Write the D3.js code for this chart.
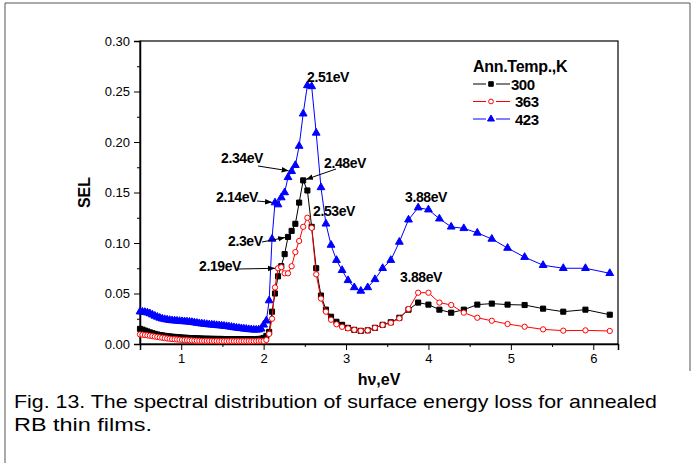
<!DOCTYPE html>
<html>
<head>
<meta charset="utf-8">
<script src="https://cdn.jsdelivr.net/npm/d3@7"></script>
<style>
body { margin: 0; background: #fff; }
text { font-family: Arial, "Liberation Sans", sans-serif; }
</style>
</head>
<body>
<div id="chart"></div>
<script>
// photon energy below 2 eV (dense part of the scan)
var lowE = [0.50,0.53,0.56,0.59,0.62,0.65,0.68,0.71,0.74,0.77,0.80,0.83,0.86,0.89,0.92,0.95,0.98,1.01,1.04,1.07,
    1.10,1.13,1.16,1.19,1.22,1.25,1.28,1.31,1.34,1.37,1.40,1.43,1.46,1.49,1.52,1.55,1.58,1.61,1.64,1.67,
    1.70,1.73,1.76,1.79,1.82,1.85,1.88,1.91,1.94,1.97];
var low300 = [.0150,.0142,.0133,.0124,.0115,.0107,.0100,.0094,.0089,.0085,.0081,.0078,.0075,.0072,.0070,.0068,.0066,.0064,.0062,.0061,
    .0059,.0058,.0057,.0056,.0055,.0054,.0053,.0052,.0052,.0051,.0051,.0050,.0050,.0050,.0049,.0049,.0049,.0048,.0048,.0048,
    .0048,.0048,.0048,.0048,.0048,.0048,.0049,.0049,.0050,.0052];
var low363 = [.0095,.0092,.0089,.0086,.0082,.0078,.0074,.0070,.0066,.0062,.0058,.0055,.0052,.0049,.0047,.0045,.0043,.0041,.0039,.0038,
    .0036,.0035,.0034,.0033,.0032,.0031,.0031,.0030,.0030,.0029,.0029,.0029,.0028,.0028,.0028,.0028,.0028,.0028,.0028,.0028,
    .0028,.0028,.0028,.0028,.0028,.0028,.0028,.0029,.0030,.0031];
var low423 = [.0320,.0318,.0315,.0310,.0302,.0290,.0278,.0268,.0258,.0250,.0244,.0240,.0236,.0233,.0231,.0229,.0226,.0224,.0223,.0221,
    .0219,.0216,.0212,.0208,.0204,.0201,.0198,.0195,.0192,.0190,.0188,.0185,.0183,.0181,.0178,.0175,.0172,.0168,.0164,.0160,
    .0157,.0154,.0151,.0148,.0145,.0143,.0141,.0140,.0142,.0150];

// photon energy from 2 eV up (10 nm steps)
var highE = [2.000,2.033,2.067,2.102,2.138,2.175,2.214,2.255,2.296,2.340,2.385,2.431,2.480,2.531,2.583,2.638,2.696,2.756,2.818,2.884,
    2.952,3.024,3.100,3.179,3.263,3.351,3.444,3.543,3.647,3.758,3.875,4.000,4.133,4.276,4.429,4.593,4.769,4.960,5.167,5.391,
    5.636,5.905,6.200];
var high300 = [.006,.008,.012,.032,.050,.067,.077,.089,.106,.112,.119,.140,.162,.152,.116,.075,.048,.034,.027,.022,
    .019,.016,.014,.013,.0135,.016,.019,.0215,.026,.034,.041,.039,.034,.031,.034,.039,.040,.039,.0386,.035,
    .032,.034,.029];
var high363 = [.003,.004,.010,.025,.056,.075,.076,.070,.070,.077,.091,.102,.116,.125,.115,.069,.045,.032,.024,.0195,
    .017,.0155,.014,.013,.0135,.016,.0188,.021,.0254,.0346,.0508,.0508,.041,.0386,.031,.026,.023,.0198,.0171,.0145,
    .0132,.0135,.0129];
var high423 = [.019,.023,.043,.104,.140,.138,.145,.150,.165,.171,.177,.196,.228,.256,.255,.209,.155,.119,.098,.083,
    .073,.063,.056,.0525,.056,.064,.075,.083,.101,.123,.135,.133,.124,.116,.1145,.110,.104,.095,.086,.078,
    .075,.075,.070];

var yTicks = [0, 0.05, 0.10, 0.15, 0.20, 0.25, 0.30];
var yMinor = [0.025, 0.075, 0.125, 0.175, 0.225, 0.275];
var xTicks = [1, 2, 3, 4, 5, 6];
var xMinor = [0.5, 1.5, 2.5, 3.5, 4.5, 5.5];
var temps = ["300", "363", "423"];
var legendTitle = "Ann.Temp.,K";
var caption = ["Fig. 13. The spectral distribution of surface energy loss for annealed", "RB thin films."];

var width = 694, height = 463;
var margin = { top: 41, right: 76, bottom: 119, left: 140 };

var svg = d3.select("#chart").append("svg")
    .attr("width", width)
    .attr("height", height);

// outer figure box
svg.append("path")
    .attr("d", "M5,463V3H690V371")
    .attr("fill", "none")
    .attr("stroke", "#555")
    .attr("stroke-width", 1);

var x = d3.scaleLinear().domain([0.5, 6.3]).range([margin.left, width - margin.right]);
var y = d3.scaleLinear().domain([0, 0.30]).range([height - margin.bottom, margin.top]);

var defs = svg.append("defs");
defs.append("marker")
    .attr("id", "arrow")
    .attr("viewBox", "0 0 10 10")
    .attr("refX", 10).attr("refY", 5)
    .attr("markerWidth", 7).attr("markerHeight", 7)
    .attr("markerUnits", "userSpaceOnUse")
    .attr("orient", "auto")
    .append("path")
    .attr("d", "M0,1L10,5L0,9z")
    .attr("fill", "#000");

// frame
svg.append("rect")
    .attr("x", x(0.5)).attr("y", y(0.30))
    .attr("width", x(6.3) - x(0.5)).attr("height", y(0) - y(0.30))
    .attr("fill", "none")
    .attr("stroke", "#000")
    .attr("stroke-width", 1.2);

var yAxis = svg.append("g")
    .attr("transform", `translate(${x(0.5)},0)`)
    .call(d3.axisLeft(y).tickValues(yTicks).tickFormat(d3.format(".2f")).tickSize(6).tickPadding(4))
    .call(g => g.select(".domain").attr("stroke-width", 1.5));
yAxis.selectAll("text").style("font-size", "13px").attr("fill", "#000");

svg.append("g")
    .attr("transform", `translate(${x(0.5)},0)`)
    .call(d3.axisLeft(y).tickValues(yMinor).tickFormat("").tickSize(3))
    .call(g => g.select(".domain").remove());

var xAxis = svg.append("g")
    .attr("transform", `translate(0,${y(0)})`)
    .call(d3.axisBottom(x).tickValues(xTicks).tickFormat(d3.format("d")).tickSize(6).tickPadding(4))
    .call(g => g.select(".domain").attr("stroke-width", 1.5));
xAxis.selectAll("text").style("font-size", "13px").attr("fill", "#000");

svg.append("g")
    .attr("transform", `translate(0,${y(0)})`)
    .call(d3.axisBottom(x).tickValues(xMinor).tickFormat("").tickSize(3))
    .call(g => g.select(".domain").remove());

svg.append("text")
    .attr("transform", `translate(90,${(y(0) + y(0.30)) / 2}) rotate(-90)`)
    .attr("text-anchor", "middle")
    .style("font-size", "16px")
    .style("font-weight", "bold")
    .text("SEL");

svg.append("text")
    .attr("x", (x(0.5) + x(6.3)) / 2)
    .attr("y", 385)
    .attr("text-anchor", "middle")
    .style("font-size", "16px")
    .style("font-weight", "bold")
    .text("hν,eV");

// series
var series = [
    { name: temps[0], color: "#000", shape: d3.symbolSquare, size: 26, fill: "#000",
      points: lowE.map((e, i) => [e, low300[i]]).concat(highE.map((e, i) => [e, high300[i]])) },
    { name: temps[1], color: "#ff0000", shape: d3.symbolCircle, size: 22, fill: "#fff",
      points: lowE.map((e, i) => [e, low363[i]]).concat(highE.map((e, i) => [e, high363[i]])) },
    { name: temps[2], color: "#0000ff", shape: d3.symbolTriangle, size: 26, fill: "#0000ff",
      points: lowE.map((e, i) => [e, low423[i]]).concat(highE.map((e, i) => [e, high423[i]])) }
];

var line = d3.line().x(d => x(d[0])).y(d => y(d[1]));

series.forEach(function(s) {
    var g = svg.append("g");
    g.append("path")
        .attr("d", line(s.points))
        .attr("fill", "none")
        .attr("stroke", s.color)
        .attr("stroke-width", 1);
    g.selectAll("path.pt")
        .data(s.points)
        .join("path")
        .attr("class", "pt")
        .attr("transform", d => `translate(${x(d[0])},${y(d[1])})`)
        .attr("d", d3.symbol().type(s.shape).size(s.size))
        .attr("fill", s.fill)
        .attr("stroke", s.color)
        .attr("stroke-width", 1);
});

// peak labels: text position in pixels, arrow target as a data point
var notes = [
    { t: "2.51eV", tx: 307, ty: 82 },
    { t: "2.34eV", tx: 221, ty: 163, ax: 258, ay: 166, target: [highE[9], high423[9]] },
    { t: "2.48eV", tx: 324, ty: 168, ax: 336, ay: 169, target: [highE[12], high300[12]] },
    { t: "2.14eV", tx: 216, ty: 202, ax: 257, ay: 201, target: [highE[4], high423[4]] },
    { t: "2.3eV", tx: 228, ty: 246, ax: 262, ay: 242, target: [highE[8], high300[8]] },
    { t: "2.19eV", tx: 199, ty: 271, ax: 238, ay: 269, target: [highE[5], high363[5]] },
    { t: "2.53eV", tx: 313, ty: 216 },
    { t: "3.88eV", tx: 405, ty: 202 },
    { t: "3.88eV", tx: 400, ty: 282 }
];

notes.forEach(function(n) {
    svg.append("text")
        .attr("x", n.tx).attr("y", n.ty)
        .style("font-size", "14px")
        .style("font-weight", "bold")
        .style("letter-spacing", "-0.4px")
        .text(n.t);
    if (n.target) {
        var px = x(n.target[0]), py = y(n.target[1]);
        var dx = px - n.ax, dy = py - n.ay, len = Math.sqrt(dx * dx + dy * dy);
        svg.append("line")
            .attr("x1", n.ax).attr("y1", n.ay)
            .attr("x2", px - dx / len * 3).attr("y2", py - dy / len * 3)
            .attr("stroke", "#000")
            .attr("stroke-width", 1)
            .attr("marker-end", "url(#arrow)");
    }
});

// legend
var legend = svg.append("g");
legend.append("text")
    .attr("x", 473).attr("y", 72)
    .style("font-size", "16px")
    .style("font-weight", "bold")
    .style("letter-spacing", "-0.3px")
    .text(legendTitle);

series.forEach(function(s, i) {
    var ly = 84 + i * 17.5;
    legend.append("line")
        .attr("x1", 473).attr("x2", 510).attr("y1", ly).attr("y2", ly)
        .attr("stroke", s.color).attr("stroke-width", 1);
    legend.append("rect")
        .attr("x", 486).attr("y", ly - 1).attr("width", 10).attr("height", 2)
        .attr("fill", "#fff");
    legend.append("path")
        .attr("transform", `translate(491,${ly})`)
        .attr("d", d3.symbol().type(s.shape).size(s.size * 0.8))
        .attr("fill", s.fill)
        .attr("stroke", s.color);
    legend.append("text")
        .attr("x", i == 0 ? 511 : 515).attr("y", ly + 5.5)
        .style("font-size", "15px")
        .style("font-weight", "bold")
        .style("letter-spacing", "-0.5px")
        .text(s.name);
});

// caption
svg.selectAll("text.cap")
    .data(caption)
    .join("text")
    .attr("class", "cap")
    .attr("x", 14)
    .attr("y", (d, i) => 408 + i * 23)
    .style("font-size", "19px")
    .attr("textLength", (d, i) => i == 0 ? 643 : 138)
    .attr("lengthAdjust", "spacingAndGlyphs")
    .text(d => d);
</script>
</body>
</html>
